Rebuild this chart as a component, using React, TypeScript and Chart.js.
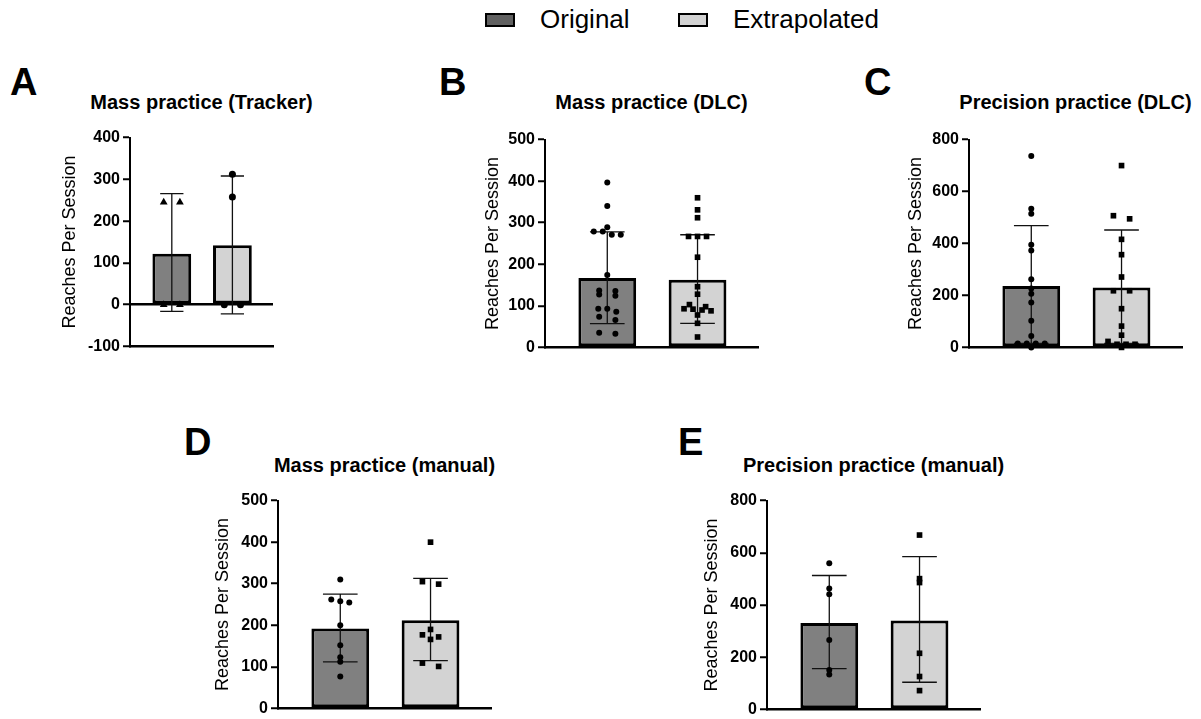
import React, { useEffect, useRef } from 'react';
import { Chart, registerables } from 'chart.js';

Chart.register(...registerables);

const GROUPS = ['Original', 'Extrapolated'];
const Y_TITLE = 'Reaches Per Session';

// Panel A – Mass practice (Tracker)
const aMeans = [122, 142];
const aErrLow = [-16, -22];
const aErrHigh = [266, 308];
const aOriginal = [245, 245, 0, 0];
const aExtrapolated = [312, 258, 0, 0];
const aTicks = [-100, 0, 100, 200, 300, 400];

// Panel B – Mass practice (DLC)
const bMeans = [167, 163];
const bErrLow = [57, 58];
const bErrHigh = [278, 271];
const bOriginal = [397, 340, 289, 279, 279, 271, 271, 174, 137, 136, 127, 124, 93, 93, 86, 74, 66, 35, 33];
const bExtrapolated = [360, 331, 312, 267, 267, 267, 217, 146, 128, 103, 98, 93, 92, 90, 88, 78, 58, 25];
const bTicks = [0, 100, 200, 300, 400, 500];

// Panel C – Precision practice (DLC)
const cMeans = [236, 231];
const cErrLow = [15, 15];
const cErrHigh = [469, 452];
const cOriginal = [737, 534, 515, 395, 373, 262, 227, 207, 173, 103, 44, 15, 15, 15, 15, 0];
const cExtrapolated = [700, 507, 495, 416, 357, 271, 218, 218, 149, 82, 47, 23, 12, 12, 12, 0];
const cTicks = [0, 200, 400, 600, 800];

// Panel D – Mass practice (manual)
const dMeans = [192, 212];
const dErrLow = [112, 115];
const dErrHigh = [275, 313];
const dOriginal = [310, 262, 258, 255, 200, 152, 123, 112, 77];
const dExtrapolated = [400, 305, 299, 190, 177, 172, 166, 109, 101];
const dTicks = [0, 100, 200, 300, 400, 500];

// Panel E – Precision practice (manual)
const eMeans = [331, 341];
const eErrLow = [156, 104];
const eErrHigh = [513, 585];
const eOriginal = [560, 463, 441, 266, 151, 134];
const eExtrapolated = [668, 501, 486, 215, 126, 72];
const eTicks = [0, 200, 400, 600, 800];

const FONT = '"Liberation Sans", Arial, Helvetica, sans-serif';
const X_MIN = -0.69;
const X_MAX = 1.67;

type PanelDef = {
  letter: string;
  title: string;
  means: number[];
  errLow: number[];
  errHigh: number[];
  original: number[];
  extrapolated: number[];
  ticks: number[];
  origStyle: string;
  origRadius: number;
  extStyle: string;
  extRadius: number;
  zeroLine: boolean;
  chartLeft: number;
  chartTop: number;
  chartRight: number;
  chartBottom: number;
  yTitleX: number;
  letterX: number;
  letterY: number;
  titleY: number;
};

const PANELS: PanelDef[] = [
  {
    letter: 'A', title: 'Mass practice (Tracker)',
    means: aMeans, errLow: aErrLow, errHigh: aErrHigh, original: aOriginal, extrapolated: aExtrapolated, ticks: aTicks,
    origStyle: 'triangle', origRadius: 4.5, extStyle: 'circle', extRadius: 3.5, zeroLine: true,
    chartLeft: 130, chartTop: 137, chartRight: 273, chartBottom: 349, yTitleX: 70,
    letterX: 10, letterY: 63, titleY: 90,
  },
  {
    letter: 'B', title: 'Mass practice (DLC)',
    means: bMeans, errLow: bErrLow, errHigh: bErrHigh, original: bOriginal, extrapolated: bExtrapolated, ticks: bTicks,
    origStyle: 'circle', origRadius: 3, extStyle: 'rect', extRadius: 4, zeroLine: false,
    chartLeft: 545, chartTop: 139, chartRight: 758, chartBottom: 350, yTitleX: 493,
    letterX: 439, letterY: 63, titleY: 90,
  },
  {
    letter: 'C', title: 'Precision practice (DLC)',
    means: cMeans, errLow: cErrLow, errHigh: cErrHigh, original: cOriginal, extrapolated: cExtrapolated, ticks: cTicks,
    origStyle: 'circle', origRadius: 3, extStyle: 'rect', extRadius: 4, zeroLine: false,
    chartLeft: 969, chartTop: 139, chartRight: 1182, chartBottom: 350, yTitleX: 916,
    letterX: 864, letterY: 63, titleY: 90,
  },
  {
    letter: 'D', title: 'Mass practice (manual)',
    means: dMeans, errLow: dErrLow, errHigh: dErrHigh, original: dOriginal, extrapolated: dExtrapolated, ticks: dTicks,
    origStyle: 'circle', origRadius: 3, extStyle: 'rect', extRadius: 4, zeroLine: false,
    chartLeft: 278, chartTop: 500, chartRight: 491, chartBottom: 711, yTitleX: 223,
    letterX: 184, letterY: 423, titleY: 453,
  },
  {
    letter: 'E', title: 'Precision practice (manual)',
    means: eMeans, errLow: eErrLow, errHigh: eErrHigh, original: eOriginal, extrapolated: eExtrapolated, ticks: eTicks,
    origStyle: 'circle', origRadius: 3, extStyle: 'rect', extRadius: 4, zeroLine: false,
    chartLeft: 767, chartTop: 500, chartRight: 980, chartBottom: 712, yTitleX: 712,
    letterX: 678, letterY: 423, titleY: 453,
  },
];

// Beeswarm-like horizontal spread of points that share (almost) the same value
function swarm(values: number[], center: number, pxPerY: number, pxPerX: number) {
  const rowPx = 3.5;
  const gapPx = 9;
  const sorted = [...values].sort((a, b) => b - a);
  const rows: number[][] = [];
  for (const v of sorted) {
    const row = rows[rows.length - 1];
    if (row && (row[0] - v) * pxPerY < rowPx) row.push(v);
    else rows.push([v]);
  }
  const pts: { x: number; y: number }[] = [];
  for (const row of rows) {
    const n = row.length;
    row.forEach((v, i) => {
      const off = n === 2 ? (i === 0 ? -0.9 : 0.9) * gapPx : (i - (n - 1) / 2) * gapPx;
      pts.push({ x: center + off / pxPerX, y: v });
    });
  }
  return pts;
}

const errorBarPlugin = {
  id: 'errorBars',
  afterDatasetDraw(chart: any, args: any) {
    const ds = chart.data.datasets[args.index];
    if (!ds.errLow) return;
    const ys = chart.scales.y;
    const ctx = chart.ctx;
    ctx.save();
    ctx.strokeStyle = '#111';
    ctx.lineWidth = 1.3;
    args.meta.data.forEach((bar: any, i: number) => {
      const x = bar.x;
      const cap = bar.width * 0.3;
      const yl = ys.getPixelForValue(ds.errLow[i]);
      const yh = ys.getPixelForValue(ds.errHigh[i]);
      ctx.beginPath();
      ctx.moveTo(x, yl);
      ctx.lineTo(x, yh);
      ctx.moveTo(x - cap, yh);
      ctx.lineTo(x + cap, yh);
      ctx.moveTo(x - cap, yl);
      ctx.lineTo(x + cap, yl);
      ctx.stroke();
    });
    ctx.restore();
  },
};

function Panel({ p }: { p: PanelDef }) {
  const ref = useRef<HTMLCanvasElement | null>(null);
  const L = p.yTitleX - 11;
  const T = p.chartTop - 12;
  const W = p.chartRight + 8 - L;
  const H = p.chartBottom + 10 - T;
  const axisW = p.chartLeft - L;

  useEffect(() => {
    if (!ref.current) return;
    const yMin = p.ticks[0];
    const yMax = p.ticks[p.ticks.length - 1];
    const step = p.ticks[1] - p.ticks[0];
    const pxPerY = (p.chartBottom - p.chartTop) / (yMax - yMin);
    const pxPerX = (p.chartRight - p.chartLeft) / (X_MAX - X_MIN);

    const chart = new Chart(ref.current, {
      type: 'bar',
      data: {
        datasets: [
          {
            type: 'bar',
            label: 'Mean',
            data: p.means.map((m, i) => ({ x: i, y: m })),
            backgroundColor: ['#808080', '#d3d3d3'],
            borderColor: '#000',
            borderWidth: 3,
            borderSkipped: false,
            barPercentage: 0.64,
            categoryPercentage: 1,
            order: 2,
            errLow: p.errLow,
            errHigh: p.errHigh,
          } as any,
          {
            type: 'scatter',
            label: GROUPS[0],
            data: swarm(p.original, 0, pxPerY, pxPerX),
            pointStyle: p.origStyle,
            pointRadius: p.origRadius,
            backgroundColor: '#000',
            borderColor: '#000',
            borderWidth: 0,
            clip: false,
            order: 1,
          } as any,
          {
            type: 'scatter',
            label: GROUPS[1],
            data: swarm(p.extrapolated, 1, pxPerY, pxPerX),
            pointStyle: p.extStyle,
            pointRadius: p.extRadius,
            backgroundColor: '#000',
            borderColor: '#000',
            borderWidth: 0,
            clip: false,
            order: 1,
          } as any,
        ],
      },
      options: {
        responsive: false,
        animation: false,
        devicePixelRatio: 1,
        events: [],
        layout: { padding: { top: 12, left: 0, right: 8, bottom: 10 } },
        plugins: { legend: { display: false }, tooltip: { enabled: false } },
        scales: {
          x: {
            type: 'linear',
            min: X_MIN,
            max: X_MAX,
            offset: false,
            ticks: { display: false, stepSize: 1, includeBounds: false },
            grid: { display: true, drawTicks: false, drawOnChartArea: false, color: 'rgba(0,0,0,0)' },
            border: { display: true, color: '#000', width: 2.5 },
            afterFit: (s: any) => { s.height = 0; },
          },
          y: {
            type: 'linear',
            min: yMin,
            max: yMax,
            ticks: {
              stepSize: step,
              color: '#000',
              padding: 3,
              font: { family: FONT, weight: 'bold', size: 16 },
            },
            grid: {
              drawOnChartArea: p.zeroLine,
              color: (ctx: any) => (ctx.tick && ctx.tick.value === 0 ? '#000' : 'rgba(0,0,0,0)'),
              lineWidth: 2.5,
              tickColor: '#000',
              tickWidth: 2,
              tickLength: 7,
            },
            border: { display: true, color: '#000', width: 2 },
            title: {
              display: true,
              text: Y_TITLE,
              color: '#000',
              padding: 0,
              font: { family: FONT, size: 18 },
            },
            afterFit: (s: any) => { s.width = axisW; },
          },
        },
      } as any,
      plugins: [errorBarPlugin],
    });
    return () => chart.destroy();
  }, []);

  const cx = (p.chartLeft + p.chartRight) / 2;
  return (
    <>
      <div style={{ position: 'absolute', left: p.letterX, top: p.letterY, font: `bold 38px ${FONT}`, lineHeight: '38px', color: '#000' }}>
        {p.letter}
      </div>
      <div style={{ position: 'absolute', left: cx - 200, width: 400, top: p.titleY, textAlign: 'center', font: `bold 20px ${FONT}`, lineHeight: '24px', color: '#000', whiteSpace: 'nowrap' }}>
        {p.title}
      </div>
      <canvas
        ref={ref}
        width={W}
        height={H}
        style={{ position: 'absolute', left: L, top: T, width: W, height: H }}
      />
    </>
  );
}

function LegendItem({ x, textX, fill, label }: { x: number; textX: number; fill: string; label: string }) {
  return (
    <>
      <div style={{ position: 'absolute', left: x, top: 13, width: 30, height: 14, boxSizing: 'border-box', border: '2px solid #000', background: fill }} />
      <div style={{ position: 'absolute', left: textX, top: 4, font: `26px ${FONT}`, lineHeight: '30px', color: '#000', whiteSpace: 'nowrap' }}>
        {label}
      </div>
    </>
  );
}

export default function App() {
  return (
    <div style={{ position: 'absolute', left: 0, top: 0, width: 1201, height: 719, background: '#fff', overflow: 'hidden' }}>
      <LegendItem x={485} textX={540} fill="#606060" label={GROUPS[0]} />
      <LegendItem x={678} textX={733} fill="#d3d3d3" label={GROUPS[1]} />
      {PANELS.map((p) => (
        <Panel key={p.letter} p={p} />
      ))}
    </div>
  );
}
